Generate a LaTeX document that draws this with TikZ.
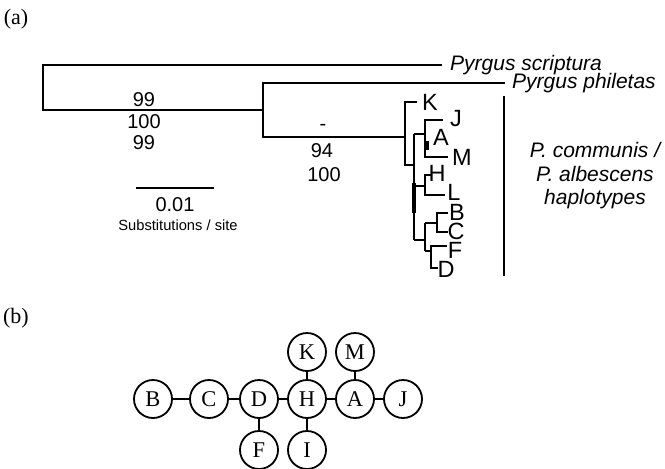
\documentclass[tikz,border=0pt]{standalone}
\usepackage{fontspec}
\setmainfont{Liberation Serif}
\newfontfamily\hv{Liberation Sans}
\begin{document}
\begin{tikzpicture}[x=1pt,y=-1pt,
  br/.style={line width=2pt},
  thk/.style={line width=3.5pt},
  tip/.style={inner sep=0pt,font=\hv\fontsize{23.5}{25}\selectfont},
  sp/.style={inner sep=0pt,anchor=west,font=\hv\itshape\fontsize{21}{24}\selectfont},
  bs/.style={inner sep=0pt,font=\hv\fontsize{20}{22}\selectfont},
  hap/.style={circle,draw,line width=1.8pt,minimum size=38pt,inner sep=0pt,font=\fontsize{22.5}{24}\selectfont},
  link/.style={line width=2.6pt},
  panel/.style={inner sep=0pt,font=\fontsize{22}{24}\selectfont}]
\useasboundingbox (0,0) rectangle (665,469);
% panel labels
\node[panel] (pa) at (16,19) {(a)};
\node[panel] (pb) at (16,318) {(b)};
% tree coordinates
\coordinate (tS) at (442,65);
\coordinate (n0) at (43,110);
\coordinate (n1) at (263,110);
\coordinate (tP) at (505,83);
\coordinate (n2) at (263,137);
\coordinate (n3) at (405,137);
\coordinate (tK) at (417,102);
\coordinate (n4) at (405,165);
\coordinate (n5) at (414,165);
\coordinate (n6) at (414,134);
\coordinate (n7) at (414,240);
\coordinate (n8) at (425,134);
\coordinate (tJ) at (443,120);
\coordinate (n9) at (425,157);
\coordinate (tM) at (448,157);
\coordinate (a1) at (427,141);
\coordinate (a2) at (427,150);
\coordinate (n10) at (414,186);
\coordinate (n11) at (425,186);
\coordinate (tH) at (432,175);
\coordinate (n12) at (425,195);
\coordinate (tL) at (445,195);
\coordinate (t1) at (414,183);
\coordinate (t2) at (414,213);
\coordinate (n13) at (425,240);
\coordinate (n14) at (425,223);
\coordinate (n15) at (425,251);
\coordinate (n16) at (437,223);
\coordinate (tB) at (448,213);
\coordinate (n17) at (437,232);
\coordinate (tC) at (448,232);
\coordinate (n18) at (431,251);
\coordinate (tF) at (447,246);
\coordinate (n19) at (431,268);
\coordinate (tD) at (438,268);
% branches
\draw[br] (tS) -| (n0) -- (n1);
\draw[br] (tP) -| (n2) -- (n3);
\draw[br] (tK) -| (n4) -- (n5);
\draw[br] (n6) -- (n7);
\draw[br] (n6) -- (n8);
\draw[br] (tJ) -| (n9) -- (tM);
\draw[thk] (a1) -- (a2);
\draw[br] (n10) -- (n11);
\draw[br] (tH) -| (n12) -- (tL);
\draw[thk] (t1) -- (t2);
\draw[br] (n7) -- (n13);
\draw[br] (n14) -- (n15);
\draw[br] (n14) -- (n16);
\draw[br] (tB) -| (n17) -- (tC);
\draw[br] (n15) -- (n18);
\draw[br] (tF) -| (n19) -- (tD);
% tip labels
\node[sp] (lS) at ([xshift=8pt]tS) {Pyrgus scriptura};
\node[sp] (lP) at ([xshift=7pt]tP) {Pyrgus philetas};
\node[tip] (lK) at (430,102) {K};
\node[tip] (lJ) at (456,119) {J};
\node[tip] (lA) at (441,137) {A};
\node[tip] (lM) at (462,157) {M};
\node[tip] (lH) at (437,173) {H};
\node[tip] (lL) at (454,192) {L};
\node[tip] (lB) at (457,212) {B};
\node[tip] (lC) at (456,231) {C};
\node[tip] (lF) at (455,250) {F};
\node[tip] (lD) at (446,269) {D};
% support values
\node[bs] (s1) at (144,100) {99};
\node[bs] (s2) at (144,122) {100};
\node[bs] (s3) at (144,143) {99};
\node[bs] (s4) at (323,127) {-};
\node[bs] (s5) at (322,151) {94};
\node[bs] (s6) at (324,175) {100};
% scale bar
\coordinate (sb1) at (136,188);
\coordinate (sb2) at (214,188);
\draw[line width=2.2pt] (sb1) -- (sb2);
\node[bs] (sbl) at (175,205) {0.01};
\node[inner sep=0pt,font=\hv\fontsize{14.7}{16}\selectfont] (sbu) at (178,225) {Substitutions / site};
% clade bar
\coordinate (cb1) at (504,96);
\coordinate (cb2) at (504,276);
\draw[line width=2.4pt] (cb1) -- (cb2);
\node[inner sep=0pt,align=center,font=\hv\itshape\fontsize{21}{23.5}\selectfont] (cl) at (595,176) {P. communis /\\P. albescens\\haplotypes};
% network (b)
\node[hap] (B) at (153,399) {B};
\node[hap] (C) at (209,399) {C};
\node[hap] (D) at (259,399) {D};
\node[hap] (H) at (307,399) {H};
\node[hap] (A) at (355,399) {A};
\node[hap] (J) at (403,399) {J};
\node[hap] (K) at (307,352) {K};
\node[hap] (M) at (355,352) {M};
\node[hap] (F) at (259,450) {F};
\node[hap] (I) at (307,450) {I};
\draw[link] (B) -- (C);
\draw[link] (C) -- (D);
\draw[link] (D) -- (H);
\draw[link] (H) -- (A);
\draw[link] (A) -- (J);
\draw[link] (K) -- (H);
\draw[link] (M) -- (A);
\draw[link] (D) -- (F);
\draw[link] (H) -- (I);
\end{tikzpicture}
\end{document}
